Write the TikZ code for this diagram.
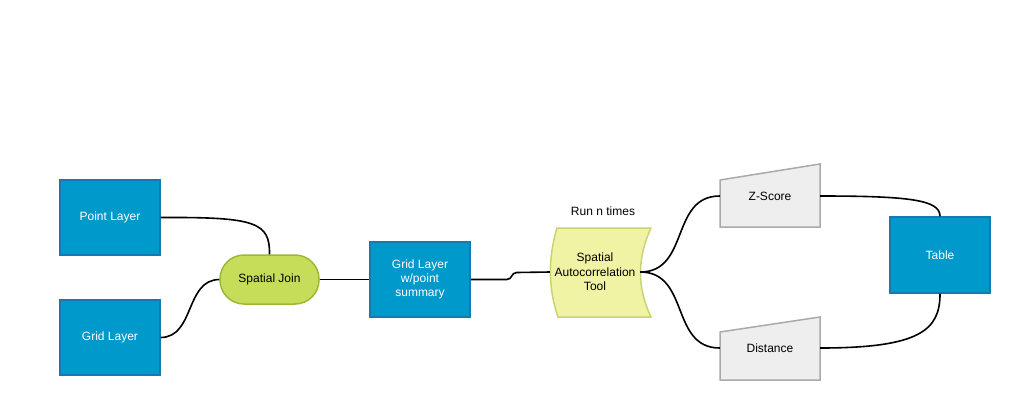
\documentclass[tikz,border=0pt]{standalone}
\usepackage{fontspec}
\setmainfont{Liberation Sans}
\definecolor{bfill}{RGB}{0,153,204}
\definecolor{bborder}{RGB}{22,122,178}
\definecolor{gfill}{RGB}{198,221,90}
\definecolor{gborder}{RGB}{152,186,52}
\definecolor{yfill}{RGB}{240,243,164}
\definecolor{yborder}{RGB}{200,212,112}
\definecolor{grfill}{RGB}{238,238,238}
\definecolor{grborder}{RGB}{170,170,170}
\begin{document}
\begin{tikzpicture}[x=1pt,y=-1pt,font=\fontsize{12}{14.3}\selectfont]
\tikzset{
  bluebox/.style={draw=bborder,fill=bfill,line width=1.5pt,text=white,minimum width=100pt,minimum height=75pt,inner sep=0pt,align=center},
  joinbox/.style={draw=gborder,fill=gfill,line width=1.5pt,rounded corners=24pt,minimum width=99pt,minimum height=49pt,inner sep=0pt,align=center},
  plainlbl/.style={inner sep=0pt,align=center},
  yshape/.style={draw=yborder,fill=yfill,line width=1.5pt},
  grshape/.style={draw=grborder,fill=grfill,line width=1.5pt},
  conn/.style={line width=1.6pt,black},
}
\useasboundingbox (0,0) rectangle (1010,400);
% shapes drawn first
\draw[yshape] (557,228) .. controls (548,258) and (548,288) .. (558,317) -- (651,317) .. controls (637,288) and (637,258) .. (651,228) -- cycle;
\draw[grshape] (720,180) -- (820,164) -- (820,227) -- (720,227) -- cycle;
\draw[grshape] (720,332) -- (820,317) -- (820,380) -- (720,380) -- cycle;
% nodes
\node[bluebox] (point) at (110,217.5) {Point Layer};
\node[bluebox] (grid) at (110,337.5) {Grid Layer};
\node[joinbox] (join) at (269.5,279.5) {Spatial Join};
\node[bluebox] (gridsum) at (420,279.5) {Grid Layer\\w/point\\summary};
\node[plainlbl,minimum width=90pt,minimum height=89pt] (sat) at (595,272) {Spatial\\Autocorrelation\\Tool};
\node[plainlbl] (run) at (603,211) {Run n times};
\node[plainlbl,minimum width=100pt] (zs) at (770,196) {Z-Score};
\node[plainlbl,minimum width=100pt] (dist) at (770,348) {Distance};
\node[bluebox,minimum height=76pt] (tab) at (940,255) {Table};
% connectors
\draw[conn] (point.east) .. controls (255,217) and (270,222) .. (join.north);
\draw[conn] (grid.east) .. controls (195,337) and (185,280) .. (join.west);
\draw[conn] (join.east) -- (gridsum.west);
\draw[conn] (gridsum.east) -- ++(36,0) .. controls +(6,0) and +(-6,0) .. ++(10,-7) -- (sat.west);
\draw[conn] (sat.east) .. controls (690,272) and (670,196) .. (zs.west);
\draw[conn] (sat.east) .. controls (690,272) and (670,348) .. (dist.west);
\draw[conn] (zs.east) .. controls (910,196) and (940,200) .. (tab.north);
\draw[conn] (dist.east) .. controls (920,348) and (940,330) .. (tab.south);
\end{tikzpicture}
\end{document}
